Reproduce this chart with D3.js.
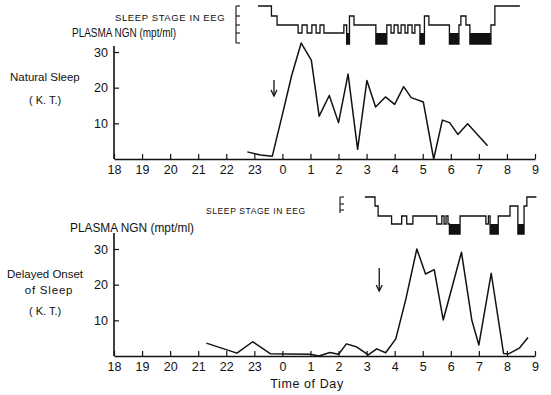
<!DOCTYPE html>
<html><head><meta charset="utf-8">
<script src="https://cdn.jsdelivr.net/npm/d3@7"></script>
<style>
body{margin:0;background:#fff}
svg{display:block}
text{font-family:"Liberation Sans",Arial,sans-serif;fill:#111}
.narrow{font-family:"Liberation Sans Narrow","Liberation Sans",Arial,sans-serif}
</style></head><body>
<div id="chart"></div>
<script>
// hours are counted from 18:00; values after midnight are 24+h
const hourTicks = [18,19,20,21,22,23,24,25,26,27,28,29,30,31,32,33];
const hourLabels = ["18","19","20","21","22","23","0","1","2","3","4","5","6","7","8","9"];
const yTicks = [10,20,30];

// Natural sleep: plasma NGN
const topHours  = [22.75,23.22,23.64,23.98,24.33,24.67,25.03,25.31,25.67,26.0,26.34,26.68,27.01,27.32,27.67,28.0,28.32,28.59,29.02,29.39,29.7,29.96,30.25,30.6,31.31];
const topValues = [2.0,1.1,0.8,11.8,23.4,32.5,27.7,12,17.8,10.2,23.8,2.7,22,14.6,17.4,15.3,20.3,17.2,16,0,10.9,10.2,6.9,9.9,3.7];

// Delayed onset of sleep: plasma NGN
const botHours  = [21.29,22.38,22.94,23.58,25.0,25.3,25.69,26.0,26.28,26.63,27.06,27.36,27.68,28.04,28.4,28.79,29.1,29.41,29.73,30.38,30.75,31.0,31.44,31.88,32.06,32.44,32.75];
const botValues = [3.6,0.8,4.0,0.6,0.5,0,1.0,0.5,3.4,2.6,0.3,2.0,0.9,4.8,16,30,23,24.2,10.1,29.1,10,3.1,23.2,0.7,0.6,2.2,5.2];

// Sleep stage hypnograms: step start hour and stage (0 = wake ... 4 = deep, filled)
const topStageHours = [23.13,23.61,23.81,24.56,24.70,24.88,25.05,25.20,25.34,25.48,26.19,26.29,26.39,26.55,27.33,27.72,27.87,27.98,28.12,28.23,28.37,28.47,28.62,28.72,28.90,29.06,29.22,29.95,30.29,30.36,30.54,30.68,31.43,31.57,32.46];
const topStages     = [0,1,2,3,2,3,2,3,2,3,2,4,1,2,4,2,3,2,3,2,3,2,3,2,4,1,2,4,2,1,2,4,2,0,0];
const botStageHours = [26.94,27.30,27.41,27.89,28.25,28.43,28.65,29.50,29.68,29.76,29.83,29.90,29.95,30.33,31.25,31.34,31.40,31.69,32.11,32.39,32.61,32.71,33.05];
const botStages     = [0,1,2,3,2,3,2,3,2,3,2,3,4,2,3,2,4,2,1,4,1,0,0];

// Arrows (sleep onset)
const topArrowHour = 23.70;
const botArrowHour = 27.45;

const W = 551, H = 395;
const svg = d3.select("#chart").append("svg").attr("width", W).attr("height", H);

const x = d3.scaleLinear().domain([18,33]).range([114,535]);

function panel(opts){
  const y = d3.scaleLinear().domain([0,30]).range([opts.y0, opts.y30]);
  const g = svg.append("g");
  // x axis
  const xa = g.append("g").attr("transform",`translate(0,${opts.y0})`)
    .call(d3.axisBottom(x).tickValues(hourTicks).tickFormat((d,i)=>hourLabels[i]).tickSizeInner(-5).tickSizeOuter(0).tickPadding(4));
  xa.select(".domain").attr("stroke","#111").attr("stroke-width",1.6);
  xa.selectAll(".tick line").attr("stroke","#111").attr("stroke-width",1.2);
  xa.selectAll(".tick text").style("font-size","12.5px").attr("fill","#111").attr("y",6);
  // y axis
  const ya = g.append("g").attr("transform",`translate(${x(18)},0)`)
    .call(d3.axisLeft(y).tickValues(yTicks).tickSizeInner(-5).tickSizeOuter(0).tickPadding(6));
  ya.select(".domain").attr("d",`M0,${opts.y0}V${opts.yTop}`).attr("stroke","#111").attr("stroke-width",1.6);
  ya.selectAll(".tick line").attr("stroke","#111").attr("stroke-width",1.2);
  ya.selectAll(".tick text").style("font-size","12.5px").attr("fill","#111");
  // data line
  const pts = opts.hours.map((h,i)=>[h,opts.values[i]]);
  g.append("path").datum(pts)
    .attr("d", d3.line().x(d=>x(d[0])).y(d=>y(d[1])))
    .attr("fill","none").attr("stroke","#111").attr("stroke-width",1.5).attr("stroke-linejoin","round");
  // arrow
  const ax = x(opts.arrowHour);
  g.append("line").attr("x1",ax).attr("x2",ax).attr("y1",opts.arrowY1).attr("y2",opts.arrowY2).attr("stroke","#111").attr("stroke-width",1.3);
  g.append("path").attr("d",`M${ax-3},${opts.arrowY2-6}L${ax},${opts.arrowY2}L${ax+3},${opts.arrowY2-6}`).attr("fill","none").attr("stroke","#111").attr("stroke-width",1.3);
  // hypnogram
  const lv = opts.levels;
  const sh = opts.stageHours, st = opts.stages;
  for(let i=0;i<sh.length-1;i++){
    if(st[i]===4){
      g.append("rect").attr("x",x(sh[i])).attr("y",lv[3]).attr("width",x(sh[i+1])-x(sh[i])).attr("height",lv[4]-lv[3]).attr("fill","#111");
    }
  }
  const stepPts = sh.map((h,i)=>[h,st[i]]);
  g.append("path").datum(stepPts)
    .attr("d", d3.line().curve(d3.curveStepAfter).x(d=>x(d[0])).y(d=>lv[d[1]]))
    .attr("fill","none").attr("stroke","#111").attr("stroke-width",1.3);
  // bracket
  const bx = opts.bracketX;
  g.append("line").attr("x1",bx).attr("x2",bx).attr("y1",lv[0]).attr("y2",opts.bracketBottom).attr("stroke","#222").attr("stroke-width",1.2);
  opts.bracketTicks.forEach(t=>{
    g.append("line").attr("x1",bx).attr("x2",bx+4).attr("y1",t).attr("y2",t).attr("stroke","#222").attr("stroke-width",1.2);
  });
  return g;
}

panel({y0:159, y30:52, yTop:46, hours:topHours, values:topValues,
  arrowHour:topArrowHour, arrowY1:80, arrowY2:96,
  levels:[6,16,25,33,44], stageHours:topStageHours, stages:topStages,
  bracketX:236, bracketBottom:43, bracketTicks:[6,16,25,33,43]});

panel({y0:356, y30:249, yTop:233, hours:botHours, values:botValues,
  arrowHour:botArrowHour, arrowY1:268, arrowY2:291,
  levels:[197,206,216,224,234], stageHours:botStageHours, stages:botStages,
  bracketX:340, bracketBottom:213, bracketTicks:[197,204,210]});

// texts
const T = (tx,ty,s,size,anchor,extra)=>{
  const t = svg.append("text").attr("x",tx).attr("y",ty).text(s).style("font-size",size+"px").attr("text-anchor",anchor||"start");
  if(extra) extra(t);
  return t;
};
T(115,21,"SLEEP STAGE IN EEG",9.5,"start",t=>t.attr("letter-spacing","0.6px"));
T(72,37,"PLASMA NGN (mpt/ml)",12.5,"start",t=>t.attr("class","narrow").attr("textLength",104).attr("lengthAdjust","spacingAndGlyphs"));
T(10,81,"Natural Sleep",11.5);
T(29,104,"( K. T.)",11);
T(206,214,"SLEEP STAGE IN EEG",8.5,"start",t=>t.attr("letter-spacing","0.6px").attr("fill","#555"));
T(70,232,"PLASMA NGN (mpt/ml)",12.5,"start",t=>t.attr("class","narrow").attr("textLength",124).attr("lengthAdjust","spacingAndGlyphs"));
T(7,278,"Delayed Onset",11.5);
T(49,294,"of Sleep",11.5,"middle",t=>t.attr("letter-spacing","0.8px"));
T(29,315,"( K. T.)",11);
T(307,388,"Time of Day",12.5,"middle",t=>t.attr("letter-spacing","0.6px"));
</script>
</body></html>
